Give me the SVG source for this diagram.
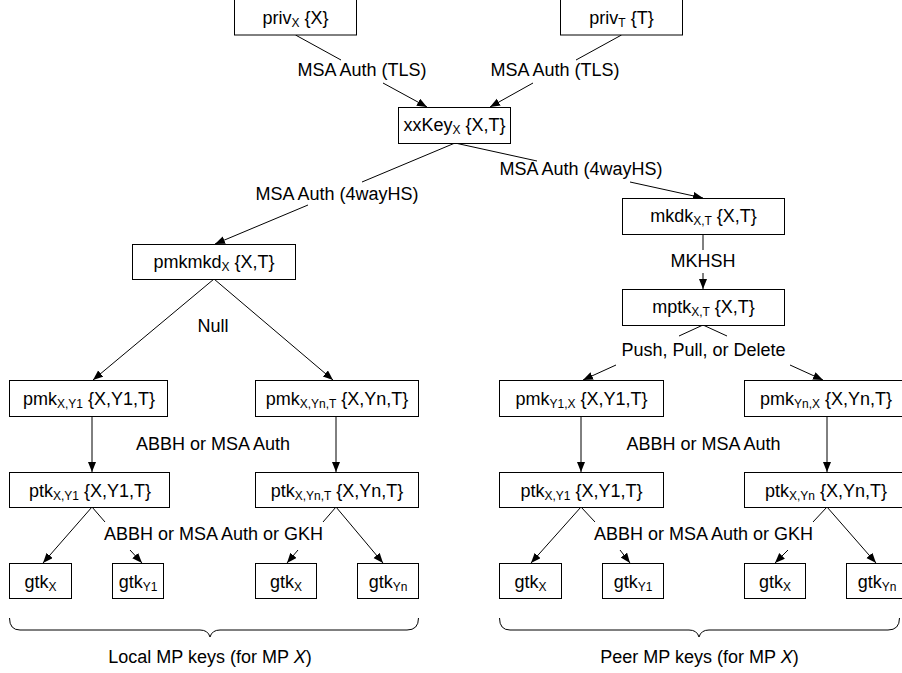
<svg xmlns="http://www.w3.org/2000/svg" width="902" height="673" viewBox="0 0 902 673">
<style>
  .box { fill: #fff; stroke: #000; stroke-width: 1; }
  .t { font-family: "Liberation Sans", Arial, sans-serif; font-size: 18px; text-anchor: middle; fill: #000; }
  .s { font-size: 12px; }
  .e { stroke: #000; stroke-width: 1; fill: none; }
  .a { marker-end: url(#arr); }
</style>
<defs>
  <marker id="arr" markerUnits="userSpaceOnUse" markerWidth="11" markerHeight="9" refX="10" refY="4" orient="auto">
    <path d="M0,0 L10,4 L0,8 Z" fill="#000"/>
  </marker>
</defs>
<rect width="902" height="673" fill="#fff"/>

<g id="connectors">
  <line class="e" x1="295.5" y1="35" x2="341" y2="60"/>
  <line class="e a" x1="383" y1="83" x2="427" y2="107"/>
  <line class="e" x1="621.5" y1="35" x2="576" y2="60"/>
  <line class="e a" x1="533" y1="83" x2="490" y2="107"/>
  <line class="e" x1="455" y1="143" x2="362" y2="182"/>
  <line class="e a" x1="308" y1="205" x2="215" y2="244"/>
  <line class="e" x1="455" y1="143" x2="537" y2="161"/>
  <line class="e a" x1="630" y1="182" x2="703" y2="198"/>
  <line class="e" x1="703" y1="234" x2="703" y2="250"/>
  <line class="e a" x1="703" y1="273" x2="703" y2="289"/>
  <line class="e a" x1="214" y1="279" x2="93" y2="380"/>
  <line class="e a" x1="214" y1="279" x2="333" y2="380"/>
  <line class="e" x1="703" y1="325" x2="679" y2="336"/>
  <line class="e a" x1="616" y1="365" x2="583" y2="380"/>
  <line class="e" x1="703" y1="325" x2="727" y2="336"/>
  <line class="e a" x1="790" y1="365" x2="823" y2="380"/>
  <line class="e a" x1="92" y1="417" x2="92" y2="472"/>
  <line class="e a" x1="336" y1="417" x2="336" y2="472"/>
  <line class="e a" x1="581" y1="417" x2="581" y2="472"/>
  <line class="e a" x1="827" y1="417" x2="827" y2="472"/>
  <line class="e a" x1="92" y1="507" x2="43" y2="563"/>
  <line class="e" x1="92" y1="507" x2="105" y2="522"/>
  <line class="e a" x1="130" y1="550" x2="142" y2="563"/>
  <line class="e" x1="336" y1="507" x2="323" y2="522"/>
  <line class="e a" x1="298" y1="550" x2="287" y2="563"/>
  <line class="e a" x1="336" y1="507" x2="383" y2="563"/>
  <line class="e a" x1="581" y1="507" x2="531" y2="563"/>
  <line class="e" x1="581" y1="507" x2="595" y2="522"/>
  <line class="e a" x1="620" y1="550" x2="630" y2="563"/>
  <line class="e" x1="827" y1="507" x2="813" y2="522"/>
  <line class="e a" x1="788" y1="550" x2="775" y2="563"/>
  <line class="e a" x1="827" y1="507" x2="876" y2="563"/>
</g>

<g id="edge-labels">
  <text class="t" x="362" y="76">MSA Auth (TLS)</text>
  <text class="t" x="555" y="76">MSA Auth (TLS)</text>
  <text class="t" x="337" y="200">MSA Auth (4wayHS)</text>
  <text class="t" x="581" y="175">MSA Auth (4wayHS)</text>
  <text class="t" x="213" y="332">Null</text>
  <text class="t" x="703" y="267">MKHSH</text>
  <text class="t" x="703.5" y="356">Push, Pull, or Delete</text>
  <text class="t" x="213" y="450">ABBH or MSA Auth</text>
  <text class="t" x="703.5" y="450">ABBH or MSA Auth</text>
  <text class="t" x="213.5" y="540">ABBH or MSA Auth or GKH</text>
  <text class="t" x="703.5" y="540">ABBH or MSA Auth or GKH</text>
</g>

<g id="node-privX">
  <rect class="box" x="234.5" y="-2" width="122" height="37"/>
  <text class="t" x="295.5" y="24">priv<tspan class="s" dy="3">X</tspan><tspan dy="-3"> {X}</tspan></text>
</g>
<g id="node-privT">
  <rect class="box" x="560.5" y="-2" width="122" height="37"/>
  <text class="t" x="621.5" y="24">priv<tspan class="s" dy="3">T</tspan><tspan dy="-3"> {T}</tspan></text>
</g>
<g id="node-xxKey">
  <rect class="box" x="398.5" y="107.5" width="112" height="36"/>
  <text class="t" x="454.5" y="131">xxKey<tspan class="s" dy="3">X</tspan><tspan dy="-3"> {X,T}</tspan></text>
</g>
<g id="node-pmkmkd">
  <rect class="box" x="132.5" y="244.5" width="163" height="35"/>
  <text class="t" x="214" y="268">pmkmkd<tspan class="s" dy="3">X</tspan><tspan dy="-3"> {X,T}</tspan></text>
</g>
<g id="node-mkdk">
  <rect class="box" x="622.5" y="198.5" width="162" height="36"/>
  <text class="t" x="703.5" y="222">mkdk<tspan class="s" dy="3">X,T</tspan><tspan dy="-3"> {X,T}</tspan></text>
</g>
<g id="node-mptk">
  <rect class="box" x="622.5" y="289.5" width="162" height="36"/>
  <text class="t" x="703.5" y="313">mptk<tspan class="s" dy="3">X,T</tspan><tspan dy="-3"> {X,T}</tspan></text>
</g>

<g id="node-pmk-X-Y1">
  <rect class="box" x="9.5" y="380.5" width="158" height="36"/>
  <text class="t" x="89" y="405">pmk<tspan class="s" dy="3">X,Y1</tspan><tspan dy="-3"> {X,Y1,T}</tspan></text>
</g>
<g id="node-pmk-X-Yn-T">
  <rect class="box" x="255.5" y="380.5" width="163" height="36"/>
  <text class="t" x="337" y="405">pmk<tspan class="s" dy="3">X,Yn,T</tspan><tspan dy="-3"> {X,Yn,T}</tspan></text>
</g>
<g id="node-pmk-Y1-X">
  <rect class="box" x="499.5" y="380.5" width="164" height="36"/>
  <text class="t" x="581.5" y="405">pmk<tspan class="s" dy="3">Y1,X</tspan><tspan dy="-3"> {X,Y1,T}</tspan></text>
</g>
<g id="node-pmk-Yn-X">
  <rect class="box" x="744.5" y="380.5" width="163" height="36"/>
  <text class="t" x="826" y="405">pmk<tspan class="s" dy="3">Yn,X</tspan><tspan dy="-3"> {X,Yn,T}</tspan></text>
</g>

<g id="node-ptk-X-Y1-local">
  <rect class="box" x="9.5" y="472.5" width="160" height="35"/>
  <text class="t" x="90" y="497">ptk<tspan class="s" dy="3">X,Y1</tspan><tspan dy="-3"> {X,Y1,T}</tspan></text>
</g>
<g id="node-ptk-X-Yn-T">
  <rect class="box" x="255.5" y="472.5" width="163" height="35"/>
  <text class="t" x="337" y="497">ptk<tspan class="s" dy="3">X,Yn,T</tspan><tspan dy="-3"> {X,Yn,T}</tspan></text>
</g>
<g id="node-ptk-X-Y1-peer">
  <rect class="box" x="499.5" y="472.5" width="164" height="35"/>
  <text class="t" x="581.5" y="497">ptk<tspan class="s" dy="3">X,Y1</tspan><tspan dy="-3"> {X,Y1,T}</tspan></text>
</g>
<g id="node-ptk-X-Yn">
  <rect class="box" x="744.5" y="472.5" width="163" height="35"/>
  <text class="t" x="826" y="497">ptk<tspan class="s" dy="3">X,Yn</tspan><tspan dy="-3"> {X,Yn,T}</tspan></text>
</g>

<g id="node-gtk-X-1">
  <rect class="box" x="9.5" y="563.5" width="62" height="35"/>
  <text class="t" x="40.5" y="588">gtk<tspan class="s" dy="3">X</tspan></text>
</g>
<g id="node-gtk-Y1-1">
  <rect class="box" x="112.5" y="563.5" width="51" height="35"/>
  <text class="t" x="138" y="588">gtk<tspan class="s" dy="3">Y1</tspan></text>
</g>
<g id="node-gtk-X-2">
  <rect class="box" x="255.5" y="563.5" width="61" height="35"/>
  <text class="t" x="286" y="588">gtk<tspan class="s" dy="3">X</tspan></text>
</g>
<g id="node-gtk-Yn-2">
  <rect class="box" x="357.5" y="563.5" width="61" height="35"/>
  <text class="t" x="388" y="588">gtk<tspan class="s" dy="3">Yn</tspan></text>
</g>
<g id="node-gtk-X-3">
  <rect class="box" x="499.5" y="563.5" width="62" height="35"/>
  <text class="t" x="530.5" y="588">gtk<tspan class="s" dy="3">X</tspan></text>
</g>
<g id="node-gtk-Y1-3">
  <rect class="box" x="602.5" y="563.5" width="61" height="35"/>
  <text class="t" x="633" y="588">gtk<tspan class="s" dy="3">Y1</tspan></text>
</g>
<g id="node-gtk-X-4">
  <rect class="box" x="744.5" y="563.5" width="61" height="35"/>
  <text class="t" x="775" y="588">gtk<tspan class="s" dy="3">X</tspan></text>
</g>
<g id="node-gtk-Yn-4">
  <rect class="box" x="846.5" y="563.5" width="62" height="35"/>
  <text class="t" x="877" y="588">gtk<tspan class="s" dy="3">Yn</tspan></text>
</g>

<g id="brace-local">
  <path class="e" d="M9.5,618 Q9.5,630 20,630 L200,630 Q208,630 210,637 Q212,630 220,630 L407,630 Q418.5,630 418.5,618"/>
  <text class="t" x="210" y="663">Local MP keys (for MP <tspan font-style="italic">X</tspan>)</text>
</g>
<g id="brace-peer">
  <path class="e" d="M499.5,618 Q499.5,630 510,630 L689,630 Q697,630 699,637 Q701,630 709,630 L888,630 Q899.5,630 899.5,618"/>
  <text class="t" x="699.5" y="663">Peer MP keys (for MP <tspan font-style="italic">X</tspan>)</text>
</g>
</svg>
